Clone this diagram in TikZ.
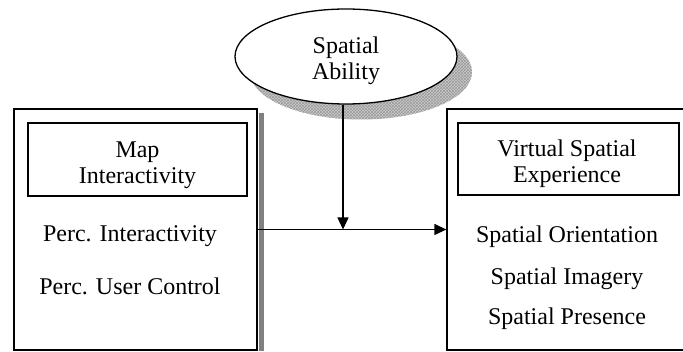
\documentclass[tikz,border=0pt]{standalone}
\usepackage{fontspec}
\setmainfont{Liberation Serif}
\usetikzlibrary{shapes,arrows.meta,positioning,calc,patterns}

\begin{document}
\begin{tikzpicture}[x=1pt,y=-1pt,
	box/.style={draw, line width=1.3pt, inner sep=0pt},
	lbl/.style={font=\fontsize{24}{25.5}\selectfont, align=center, inner sep=0pt},
	arr/.style={line width=1.3pt, -{Triangle[length=12pt,width=11pt]}}]
	\useasboundingbox (0,0) rectangle (683,352);
	% moderator with its hatched shadow
	\node[ellipse, minimum width=222pt, minimum height=95pt, inner sep=0pt, preaction={fill=gray!40}, pattern=crosshatch, pattern color=gray!80] (abshadow) at (361,72) {};
	\node[ellipse, draw, fill=white, line width=1.3pt, minimum width=222pt, minimum height=95pt, inner sep=0pt] (ability) at (346,56.5) {};
	\node[lbl] (ablbl) at (346,61) {Spatial\\Ability};
	% independent variable
	\node[box, minimum width=243pt, minimum height=241pt] (mapbox) at (135.5,229.5) {};
	\fill[black!50] ($(mapbox.north east)+(1.5,5)$) rectangle ($(mapbox.south east)+(6.5,0)$);
	\node[box, minimum width=219pt, minimum height=73pt] (mapinner) at (137.5,159.5) {};
	\node[lbl] (maplbl) at (137.5,165) {Map\\Interactivity};
	\node[lbl, anchor=base] (pint) at (130,242) {Perc. Interactivity};
	\node[lbl, anchor=base] (pctl) at (130,295) {Perc. User Control};
	% dependent variable
	\node[box, minimum width=243pt, minimum height=241pt] (vsebox) at (568.5,229.5) {};
	\node[box, minimum width=221pt, minimum height=72pt] (vseinner) at (568.5,159) {};
	\node[lbl] (vselbl) at (567,163.5) {Virtual Spatial\\Experience};
	\foreach \txt/\yy/\nm in {Spatial Orientation/243/sori, Spatial Imagery/285/simg, Spatial Presence/325/spre} {
		\node[lbl, anchor=base] (\nm) at (567,\yy) {\txt};
	}
	% paths
	\coordinate (meet) at (343,229.5);
	\draw[arr] (mapbox.east) -- (vsebox.west);
	\draw[arr] (meet |- ability.south) -- (meet);
\end{tikzpicture}
\end{document}
